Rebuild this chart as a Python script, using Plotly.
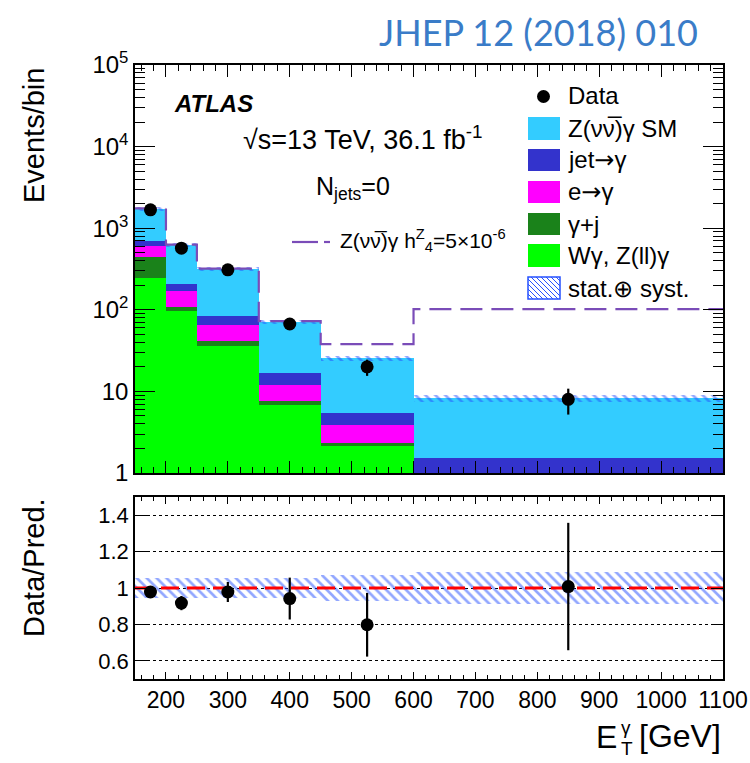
import plotly.graph_objects as go
import numpy as np

# ---------------- data ----------------
bin_edges = [150, 200, 250, 350, 450, 600, 1100]
bin_centers = [175, 225, 300, 400, 525, 850]
bin_widths = [50, 50, 100, 100, 150, 500]

wg_zllg = [245, 97, 36, 6.8, 2.14, 0.45]        # W gamma, Z(ll) gamma
gamma_jet = [200, 12, 5.5, 0.8, 0.21, 0.05]     # gamma + j
e_to_gamma = [155, 62, 23.5, 4.4, 1.52, 0.35]   # e -> gamma
jet_to_gamma = [95, 36, 19.5, 4.7, 1.63, 0.66]  # jet -> gamma
znng_sm = [1025, 413, 231.5, 54.8, 19.9, 6.69]  # Z(nunu) gamma SM
znng_h4z = [1745, 628, 320, 72.5, 38, 102]      # Z(nunu) gamma h4Z=5e-6
data = [1680, 569, 309, 67, 20, 8]
data_err = [41, 24, 17.6, 8.2, 4.5, 2.8]
rel_unc = [0.053, 0.053, 0.053, 0.053, 0.07, 0.09]
ratio = [0.978, 0.917, 0.978, 0.942, 0.798, 1.008]
ratio_err = [0.024, 0.039, 0.055, 0.115, 0.175, 0.35]

main_ytick_vals = [1, 10, 100, 1000, 10000, 100000]
main_ytick_text = ["1", "10", "10<sup>2</sup>", "10<sup>3</sup>", "10<sup>4</sup>", "10<sup>5</sup>"]
ratio_tick_vals = [0.6, 0.8, 1.0, 1.2, 1.4]
ratio_tick_text = ["0.6", "0.8", "1", "1.2", "1.4"]

ARROW = '<span style="font-family:DejaVu Sans">→</span>'
layers = [
    ("Wγ, Z(ll)γ", wg_zllg, "#00FF00"),
    ("γ+j", gamma_jet, "#1A821A"),
    ("e" + ARROW + "γ", e_to_gamma, "#FF00FF"),
    ("jet" + ARROW + "γ", jet_to_gamma, "#3333CC"),
    ("Z(νν̅)γ SM", znng_sm, "#33CCFF"),
]

FONT = "Liberation Sans, Arial, Helvetica, sans-serif"
W, H = 750, 763
BSM_COLOR = "#7A4CB8"
HATCH_COLOR = "#2550FF"


def px(x):
    return x / W


def py(y):
    return 1 - y / H


fig = go.Figure()

# stacked histogram
cum = np.zeros(len(bin_centers))
for name, vals, col in layers:
    vals = np.array(vals, dtype=float)
    fig.add_trace(go.Bar(
        x=bin_centers, y=vals, base=(cum.copy() if cum.sum() > 0 else None),
        width=bin_widths, marker=dict(color=col, line=dict(width=0)),
        xaxis="x", yaxis="y", showlegend=False, hoverinfo="skip"))
    cum = cum + vals
total = cum
unc = np.array(rel_unc)

hatch = dict(shape="\\", fgcolor=HATCH_COLOR, bgcolor="rgba(255,255,255,0)", size=7,
             solidity=0.38)

# uncertainty hatch on main
fig.add_trace(go.Bar(
    x=bin_centers, y=total * 2 * unc, base=total * (1 - unc), width=bin_widths,
    marker=dict(color="rgba(0,0,0,0)", line=dict(width=0), pattern=hatch),
    xaxis="x", yaxis="y", showlegend=False, hoverinfo="skip"))

# BSM dashed step
fig.add_trace(go.Scatter(
    x=bin_edges, y=znng_h4z + [znng_h4z[-1]], mode="lines",
    line=dict(shape="hv", color=BSM_COLOR, width=2.2, dash="22px,9px"),
    xaxis="x", yaxis="y", showlegend=False, hoverinfo="skip"))

# data
fig.add_trace(go.Scatter(
    x=bin_centers, y=data, mode="markers",
    marker=dict(size=13, color="black"),
    error_y=dict(type="data", array=data_err, color="black", thickness=2.2, width=0),
    xaxis="x", yaxis="y", showlegend=False, hoverinfo="skip"))

# ratio band
fig.add_trace(go.Bar(
    x=bin_centers, y=2 * unc, base=1 - unc, width=bin_widths,
    marker=dict(color="rgba(0,0,0,0)", line=dict(width=0), pattern=hatch),
    xaxis="x2", yaxis="y2", showlegend=False, hoverinfo="skip"))

# red reference line at unity
fig.add_trace(go.Scatter(
    x=[bin_edges[0], bin_edges[-1]], y=[1, 1], mode="lines",
    line=dict(color="#FF0000", width=2.8, dash="18px,8px"),
    xaxis="x2", yaxis="y2", showlegend=False, hoverinfo="skip"))

# ratio data
fig.add_trace(go.Scatter(
    x=bin_centers, y=ratio, mode="markers",
    marker=dict(size=13, color="black"),
    error_y=dict(type="data", array=ratio_err, color="black", thickness=2.2, width=0),
    xaxis="x2", yaxis="y2", showlegend=False, hoverinfo="skip"))

xdom = [px(135), px(723)]
main_dom = [py(473), py(65)]
ratio_dom = [py(679), py(497)]

axis_common = dict(showline=True, linecolor="black", linewidth=1.5, mirror="allticks",
                   ticks="inside", tickcolor="black", tickwidth=1.2,
                   zeroline=False, automargin=False)

fig.update_layout(
    width=W, height=H, margin=dict(l=0, r=0, t=0, b=0, autoexpand=False),
    paper_bgcolor="white", plot_bgcolor="white",
    barmode="overlay", bargap=0,
    font=dict(family=FONT, color="black"),
    xaxis=dict(domain=xdom, range=[150, 1100], anchor="y", showticklabels=False,
               tickmode="linear", tick0=0, dtick=100, ticklen=12, showgrid=False,
               minor=dict(ticks="inside", ticklen=6, tick0=0, dtick=20, tickcolor="black",
                          tickwidth=1.2),
               **axis_common),
    yaxis=dict(domain=main_dom, type="log", range=[0, 5], anchor="x",
               tickmode="array", tickvals=main_ytick_vals, ticktext=main_ytick_text,
               ticklen=20, tickfont=dict(size=24), showgrid=False,
               minor=dict(ticks="inside", ticklen=10, tickcolor="black", tickwidth=1.2,
                          tickmode="array",
                          tickvals=[k * 10 ** n for n in range(5) for k in range(2, 10)]),
               **axis_common),
    xaxis2=dict(domain=xdom, range=[150, 1100], anchor="y2",
                tickmode="linear", tick0=0, dtick=100, ticklen=7, showgrid=False,
                tickfont=dict(size=23),
                minor=dict(ticks="inside", ticklen=4, tick0=0, dtick=20, tickcolor="black",
                           tickwidth=1.2),
                **axis_common),
    yaxis2=dict(domain=ratio_dom, range=[0.5, 1.5], anchor="x2",
                tickmode="array", tickvals=ratio_tick_vals, ticktext=ratio_tick_text,
                ticklen=12, tickfont=dict(size=22),
                showgrid=True, gridcolor="black", gridwidth=1, griddash="dot",
                **axis_common),
)

shapes = []
annotations = []


def ann(text, x, y, size, xanchor="left", yanchor="middle", **kw):
    annotations.append(dict(text=text, x=px(x), y=py(y), xref="paper", yref="paper",
                            xanchor=xanchor, yanchor=yanchor, showarrow=False,
                            font=dict(size=size, family=kw.pop("family", FONT),
                                      color=kw.pop("color", "black")), **kw))


# journal reference
ann("JHEP 12 (2018) 010", 700, 32, 36, xanchor="right", family="Lato, sans-serif",
    color="#3A7CC8")
# axis titles
ann("Events/bin", 34, 136, 29, xanchor="center", textangle=-90)
ann("Data/Pred.", 34, 568, 29, xanchor="center", textangle=-90)
ann("E", 619, 737, 32, xanchor="right")
ann("γ", 619, 727, 19)
ann("T", 619, 748, 19)
ann("[GeV]", 723, 736, 32, xanchor="right")
# labels
ann("<b><i>ATLAS</i></b>", 172, 103, 24)
ann("√s=13 TeV, 36.1 fb<sup>-1</sup>", 241, 138, 27)
ann("N<sub>jets</sub>=0", 353, 188, 25, xanchor="center")

# BSM legend entry (long dash + short dash)
for xa, xb in [(292, 318), (324, 330)]:
    shapes.append(dict(type="line", xref="paper", yref="paper", x0=px(xa), x1=px(xb),
                       y0=py(242), y1=py(242),
                       line=dict(color=BSM_COLOR, width=2.2)))
ann("Z(νν̅)γ h<sup>Z</sup><sub>4</sub>=5×10<sup>-6</sup>", 338, 241, 21)

# legend: data
shapes.append(dict(type="circle", xref="paper", yref="paper",
                   x0=px(537), x1=px(550), y0=py(103), y1=py(90),
                   fillcolor="black", line=dict(width=0)))
ann("Data", 566, 96, 24)

box_rows = [(117, 140), (149, 171), (181, 203), (213, 235), (244, 267)]
for (name, vals, col), (y0, y1) in zip(layers[::-1], box_rows):
    shapes.append(dict(type="rect", xref="paper", yref="paper",
                       x0=px(528), x1=px(560), y0=py(y1), y1=py(y0),
                       fillcolor=col, line=dict(width=0)))
    ann(name, 566, (y0 + y1) / 2, 24)

# hatched legend box
hx0, hx1, hy0, hy1 = 528, 560, 277, 299
shapes.append(dict(type="rect", xref="paper", yref="paper",
                   x0=px(hx0), x1=px(hx1), y0=py(hy1), y1=py(hy0),
                   fillcolor="white", line=dict(color=HATCH_COLOR, width=1.5)))
hh = hy1 - hy0
for t in range(-hh, hx1 - hx0, 5):
    s0 = max(0.0, -t / hh)
    s1 = min(1.0, (hx1 - hx0 - t) / hh)
    if s1 > s0:
        shapes.append(dict(type="line", xref="paper", yref="paper",
                           x0=px(hx0 + t + hh * s0), y0=py(hy0 + hh * s0),
                           x1=px(hx0 + t + hh * s1), y1=py(hy0 + hh * s1),
                           line=dict(color=HATCH_COLOR, width=1)))
ann("stat.⊕ syst.", 566, 288, 24)

fig.update_layout(shapes=shapes, annotations=annotations)
fig.write_html("out.html")
